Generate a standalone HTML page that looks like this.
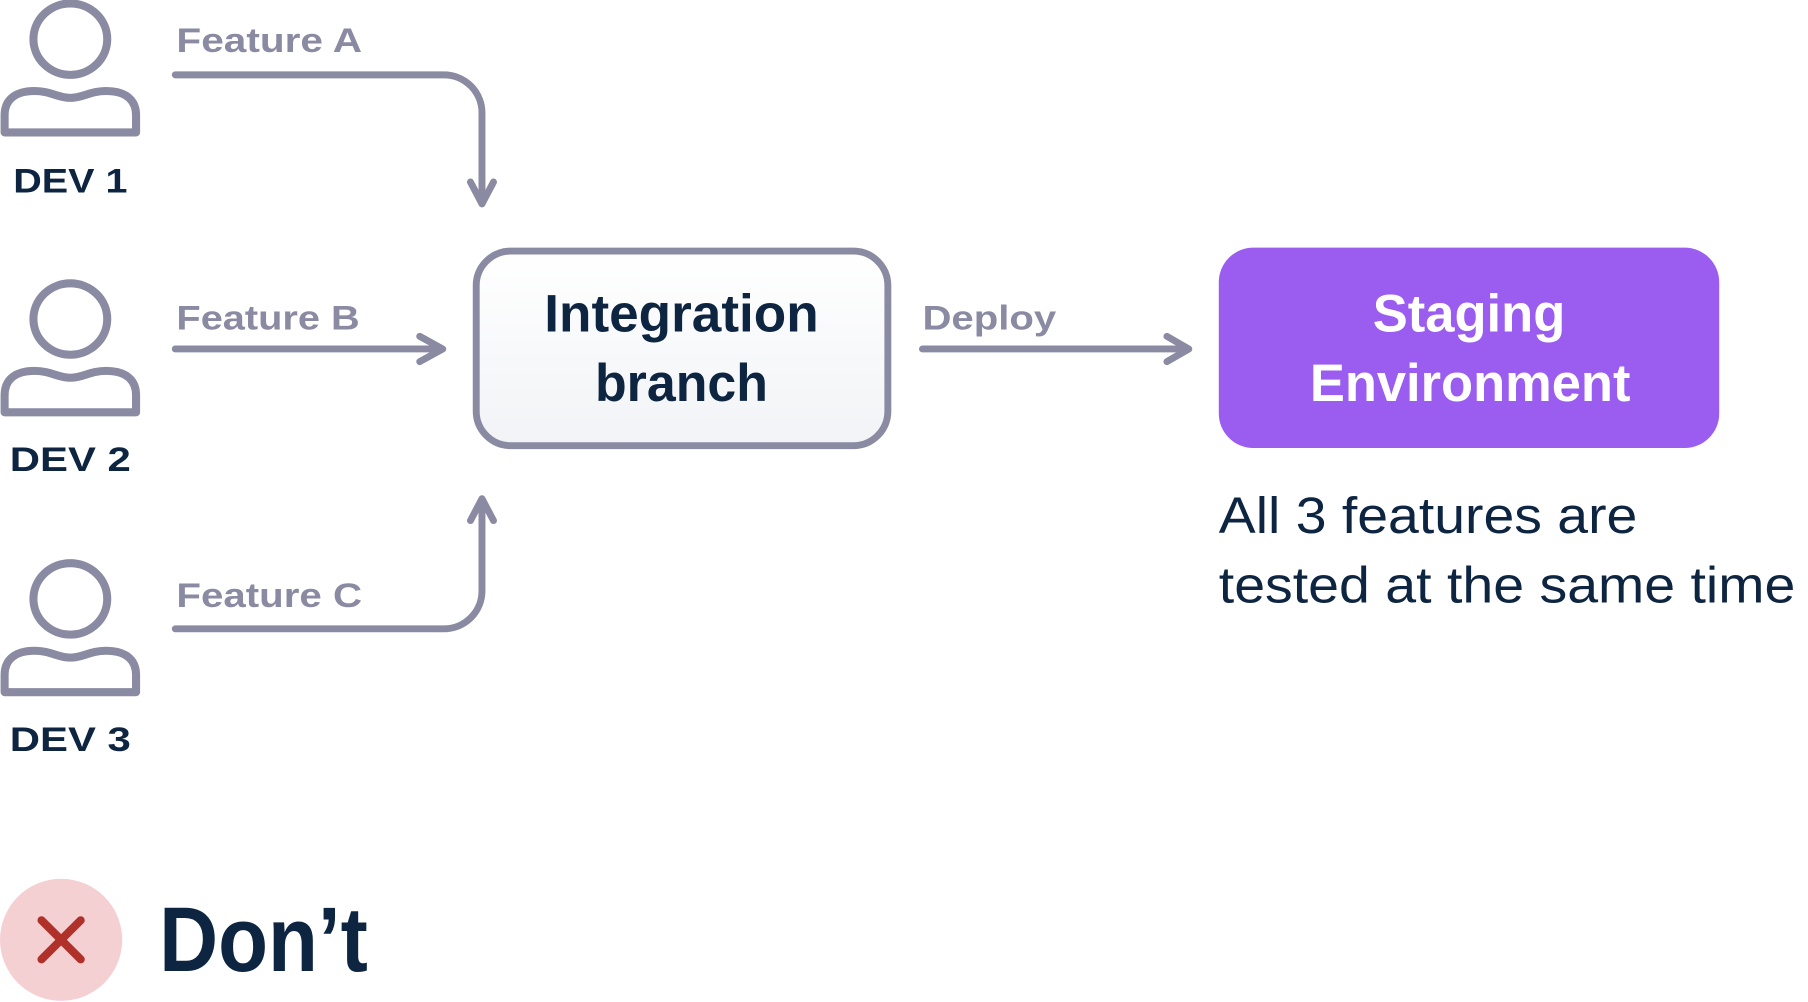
<!DOCTYPE html>
<html><head><meta charset="utf-8"><style>
html,body{margin:0;padding:0;background:#fff;}
svg{display:block;}
text{font-family:"Liberation Sans",sans-serif;}
</style></head><body>
<svg width="1808" height="1002" viewBox="0 0 1568 870" preserveAspectRatio="none" xmlns="http://www.w3.org/2000/svg">
<defs>
<linearGradient id="g" x1="0" y1="0" x2="0" y2="1"><stop offset="0" stop-color="#ffffff"/><stop offset="1" stop-color="#f1f3f6"/></linearGradient>
<g id="dev" fill="none" stroke="#8a8aa3" stroke-width="7" stroke-linejoin="round">
<ellipse cx="61" cy="34" rx="32" ry="31"/>
<path d="M4,115 L4,100 C4,86 14,79 30,79 C44,79 50,85 61,85 C72,85 78,79 92,79 C108,79 118,86 118,100 L118,115 Z"/>
</g>
</defs>
<use href="#dev"/>
<use href="#dev" y="243"/>
<use href="#dev" y="486"/>
<g fill="#0e2541" font-weight="bold" font-size="30" text-anchor="middle">
<text x="61" y="167" textLength="99" lengthAdjust="spacingAndGlyphs">DEV 1</text>
<text x="61" y="409" textLength="105" lengthAdjust="spacingAndGlyphs">DEV 2</text>
<text x="61" y="652" textLength="105" lengthAdjust="spacingAndGlyphs">DEV 3</text>
</g>
<g fill="#8a8aa3" font-weight="bold" font-size="30">
<text x="153" y="45" textLength="161" lengthAdjust="spacingAndGlyphs">Feature A</text>
<text x="153" y="286" textLength="159" lengthAdjust="spacingAndGlyphs">Feature B</text>
<text x="153" y="527" textLength="161" lengthAdjust="spacingAndGlyphs">Feature C</text>
<text x="800" y="286" textLength="116" lengthAdjust="spacingAndGlyphs">Deploy</text>
</g>
<g fill="none" stroke="#8a8aa3" stroke-width="6" stroke-linecap="round" stroke-linejoin="round">
<path d="M152,65 L385,65 A33,33 0 0 1 418,98 L418,177"/>
<path d="M408,158 L418,177 L428,158"/>
<path d="M152,303 L383,303"/>
<path d="M364,292 L384,303 L364,314"/>
<path d="M152,546 L385,546 A33,33 0 0 0 418,513 L418,434"/>
<path d="M408,452 L418,433 L428,452"/>
<path d="M800,303 L1030,303"/>
<path d="M1012,292 L1031,303 L1012,314"/>
</g>
<rect x="413" y="218" width="357" height="169" rx="30" fill="url(#g)" stroke="#8a8aa3" stroke-width="6"/>
<g fill="#0e2541" font-weight="bold" font-size="46" text-anchor="middle">
<text x="591" y="288" textLength="238" lengthAdjust="spacingAndGlyphs">Integration</text>
<text x="591" y="348" textLength="150" lengthAdjust="spacingAndGlyphs">branch</text>
</g>
<rect x="1057" y="215" width="434" height="174" rx="30" fill="#9b5def"/>
<g fill="#ffffff" font-weight="bold" font-size="46" text-anchor="middle">
<text x="1274" y="288" textLength="167" lengthAdjust="spacingAndGlyphs">Staging</text>
<text x="1275" y="348" textLength="278" lengthAdjust="spacingAndGlyphs">Environment</text>
</g>
<g fill="#0e2541" font-size="44">
<text x="1057" y="463" textLength="363" lengthAdjust="spacingAndGlyphs">All 3 features are</text>
<text x="1057" y="523" textLength="500" lengthAdjust="spacingAndGlyphs">tested at the same time</text>
</g>
<circle cx="53" cy="816" r="53" fill="#f5d0d3"/>
<path d="M36,799 L70,833 M70,799 L36,833" stroke="#b0302a" stroke-width="7" stroke-linecap="round"/>
<text x="138" y="843" fill="#0e2541" font-weight="bold" font-size="80" textLength="181" lengthAdjust="spacingAndGlyphs">Don’t</text>
</svg>
</body></html>
